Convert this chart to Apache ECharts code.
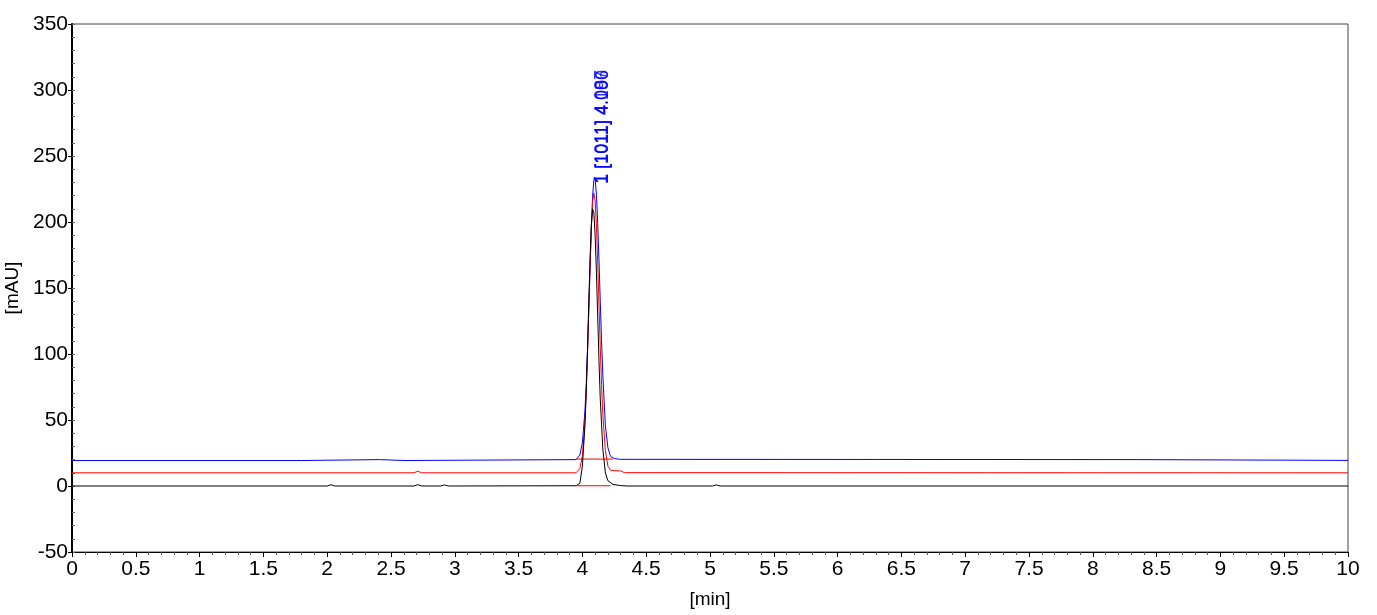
<!DOCTYPE html>
<html>
<head>
<meta charset="utf-8">
<script src="https://cdn.jsdelivr.net/npm/echarts@6/dist/echarts.min.js"></script>
<style>
html,body{margin:0;padding:0;background:#fff;}
#c{width:1377px;height:615px;}
</style>
</head>
<body>
<div id="c"></div>
<script>
// ---- data ----
const xTicks = ['0','0.5','1','1.5','2','2.5','3','3.5','4','4.5','5','5.5','6','6.5','7','7.5','8','8.5','9','9.5','10'];

const blackX = [0, 2.00, 2.03, 2.06, 2.68, 2.71, 2.74, 2.89, 2.92, 2.95, 3.95, 3.98, 4.00, 4.02, 4.03, 4.04, 4.05, 4.06, 4.07, 4.08, 4.085, 4.09, 4.10, 4.11, 4.12, 4.13, 4.14, 4.16, 4.18, 4.20, 4.24, 4.30, 4.35, 5.02, 5.05, 5.08, 10];
const blackY = [0, 0, 1.0, 0, 0, 1.0, 0, 0, 0.8, 0, 0.2, 2.0, 15, 46, 71, 103, 139, 172, 198, 210, 211, 207, 189, 162, 128, 95, 66, 28, 10, 4, 1.2, 0.3, 0, 0, 0.8, 0, 0];

const redX = [0, 2.68, 2.71, 2.74, 3.95, 3.98, 4.00, 4.02, 4.03, 4.04, 4.05, 4.06, 4.07, 4.08, 4.09, 4.10, 4.11, 4.12, 4.13, 4.14, 4.15, 4.16, 4.18, 4.20, 4.22, 4.25, 4.30, 4.33, 10];
const redY = [10, 10, 11.2, 10, 10, 13.2, 22.9, 48.8, 71, 99, 132, 165, 195, 215, 222, 216, 197, 169, 137, 105, 77, 54, 27, 15, 12.0, 11.6, 11.4, 10.1, 10];

const blueX = [0, 1.80, 1.81, 2.41, 2.42, 2.61, 2.62, 3.95, 3.98, 4.00, 4.02, 4.03, 4.04, 4.05, 4.06, 4.07, 4.08, 4.09, 4.095, 4.10, 4.11, 4.12, 4.13, 4.14, 4.15, 4.16, 4.18, 4.20, 4.22, 4.25, 4.30, 8.35, 8.36, 10];
const blueY = [19.3, 19.3, 20.0, 20.0, 19.3, 19.3, 20.0, 20.0, 23.4, 32.8, 56.8, 77, 103, 134, 166, 196, 219.5, 232, 234, 232, 221, 199, 171, 140, 110, 84, 46, 29, 22.5, 20.8, 20.2, 20.0, 19.4, 19.4];

// integration baselines (red) under the black and blue peaks
const baseBlackX = [3.94, 4.22];
const baseBlackY = [0.2, 0.2];
const baseBlueX = [3.95, 4.24];
const baseBlueY = [20.4, 20.4];

// peak labels (retention time, label anchor height)
const peakX = [4.083, 4.09, 4.095];
const labelY = [229, 229, 229];
const peakText = ['1 [1011] 4.087', '1 [1011] 4.100', '1 [1011] 4.096'];

// ---- chart ----
function pairs(xs, ys){ return xs.map((x,i)=>[x, ys[i]]); }
const FONT = 'Arial, "Liberation Sans", sans-serif';

const chart = echarts.init(document.getElementById('c'), null, {renderer:'canvas'});
const option = {
  animation:false,
  backgroundColor:'#fff',
  grid:{left:72, right:29, top:24, bottom:63, outerBoundsMode:'none', containLabel:false,
    show:true, borderColor:'#444', borderWidth:1, backgroundColor:'transparent'},
  xAxis:{
    type:'value', min:0, max:10, interval:0.5,
    name:'[min]', nameLocation:'middle', nameGap:38,
    nameTextStyle:{fontFamily:FONT, fontSize:19, color:'#000'},
    axisLine:{show:true, onZero:false, lineStyle:{color:'#000', width:1}},
    axisTick:{show:true, length:5, lineStyle:{color:'#000'}},
    minorTick:{show:true, splitNumber:5, length:3, lineStyle:{color:'#555'}},
    axisLabel:{fontFamily:FONT, fontSize:21, color:'#000', margin:7,
      formatter:(v)=>{ const i=Math.round(v/0.5); return xTicks[i]!==undefined?xTicks[i]:''; }},
    splitLine:{show:false}
  },
  yAxis:[{
    type:'value', min:-50, max:350, interval:50,
    name:'[mAU]', nameLocation:'middle', nameGap:45,
    nameTextStyle:{fontFamily:FONT, fontSize:19, color:'#000'},
    axisLine:{show:true, onZero:false, lineStyle:{color:'#000', width:2}},
    axisTick:{show:true, length:4, lineStyle:{color:'#000'}},
    axisLabel:{fontFamily:FONT, fontSize:21, color:'#000', margin:4},
    splitLine:{show:false}
  },{
    type:'value', min:-50, max:350, interval:10, position:'left',
    axisLine:{show:false},
    axisTick:{show:true, inside:true, length:3, lineStyle:{color:'#666'}},
    axisLabel:{show:false},
    splitLine:{show:false}
  }],
  series:[
    {type:'line', name:'blue', data:pairs(blueX, blueY), showSymbol:false, symbol:'none',
      lineStyle:{color:'#0000ff', width:1}, z:2},
    {type:'line', name:'red', data:pairs(redX, redY), showSymbol:false, symbol:'none',
      lineStyle:{color:'#ff0000', width:1}, z:3},
    {type:'line', name:'baseBlue', data:pairs(baseBlueX, baseBlueY), showSymbol:false, symbol:'none',
      lineStyle:{color:'#ff0000', width:1}, z:3},
    {type:'line', name:'black', data:pairs(blackX, blackY), showSymbol:false, symbol:'none',
      lineStyle:{color:'#000000', width:1}, z:4},
    {type:'line', name:'baseBlack', data:pairs(baseBlackX, baseBlackY), showSymbol:false, symbol:'none',
      lineStyle:{color:'#ff0000', width:1}, z:5},
    {type:'scatter', name:'labels', data:pairs(peakX, labelY), symbolSize:0, z:6,
      label:{show:true, position:[9, 0], rotate:90, align:'left', verticalAlign:'middle',
        color:'#0000ff', fontFamily:FONT, fontSize:18,
        formatter:(p)=>peakText[p.dataIndex]}}
  ]
};
chart.setOption(option);
</script>
</body>
</html>
